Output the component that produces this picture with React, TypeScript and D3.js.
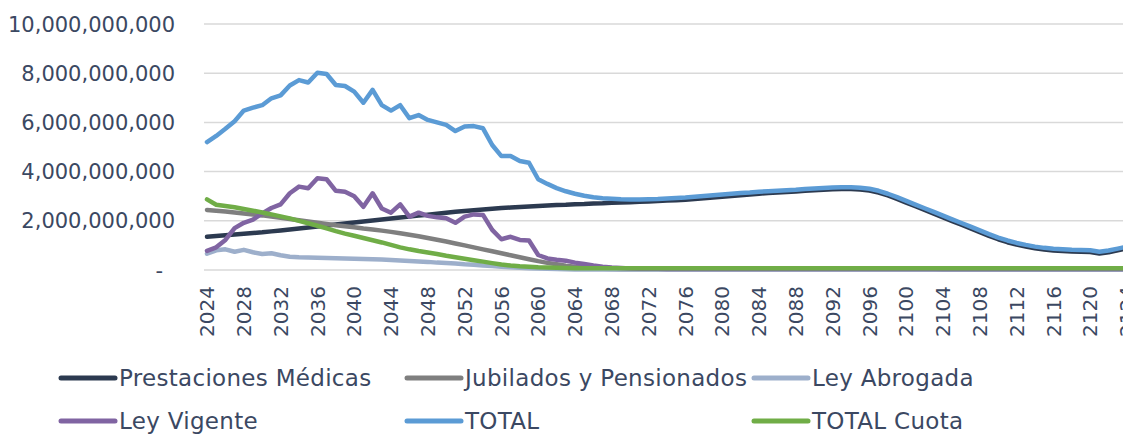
import React from 'react';
import * as d3 from 'd3';

// Values in billions (x 1,000,000,000), one per year 2024..2124
const years = d3.range(2024, 2125);

const prestacionesMedicas = [
  1.35, 1.38, 1.41, 1.44, 1.47, 1.5, 1.53, 1.57, 1.61, 1.65,
  1.69, 1.73, 1.77, 1.81, 1.85, 1.89, 1.93, 1.97, 2.01, 2.05,
  2.09, 2.13, 2.17, 2.21, 2.25, 2.29, 2.33, 2.37, 2.4, 2.43,
  2.46, 2.49, 2.52, 2.54, 2.56, 2.58, 2.6, 2.62, 2.64, 2.65,
  2.67, 2.68, 2.7, 2.71, 2.73, 2.74, 2.75, 2.77, 2.78, 2.8,
  2.82, 2.84, 2.86, 2.89, 2.92, 2.95, 2.98, 3.01, 3.04, 3.07,
  3.1, 3.13, 3.15, 3.17, 3.19, 3.22, 3.24, 3.26, 3.28, 3.29,
  3.29, 3.27, 3.23, 3.15, 3.03, 2.89, 2.74, 2.59, 2.44, 2.29,
  2.14, 1.99, 1.84, 1.69, 1.54, 1.39, 1.25, 1.13, 1.03, 0.95,
  0.88, 0.83, 0.79, 0.77, 0.75, 0.74, 0.73, 0.67, 0.72, 0.8,
  0.88,
];

const jubilados = [
  2.44, 2.41, 2.38, 2.34, 2.3, 2.26, 2.22, 2.17, 2.12, 2.07,
  2.02, 1.97, 1.92, 1.87, 1.82, 1.78, 1.74, 1.69, 1.65, 1.6,
  1.55, 1.49, 1.43, 1.37, 1.3, 1.23, 1.16, 1.08, 1.0, 0.92,
  0.84, 0.76, 0.68, 0.6, 0.52, 0.44, 0.36, 0.29, 0.23, 0.17,
  0.13, 0.1, 0.07, 0.05, 0.04, 0.03, 0.03, 0.03, 0.03, 0.03,
  0.03, 0.03, 0.03, 0.03, 0.03, 0.03, 0.03, 0.03, 0.03, 0.03,
  0.03, 0.03, 0.03, 0.03, 0.03, 0.03, 0.03, 0.03, 0.03, 0.03,
  0.03, 0.03, 0.03, 0.03, 0.03, 0.03, 0.03, 0.03, 0.03, 0.03,
  0.02, 0.02, 0.02, 0.02, 0.02, 0.02, 0.02, 0.02, 0.02, 0.02,
  0.02, 0.02, 0.02, 0.02, 0.02, 0.02, 0.02, 0.02, 0.02, 0.02,
  0.02,
];

const leyAbrogada = [
  0.66, 0.8, 0.84, 0.74, 0.82, 0.72, 0.65, 0.68, 0.6, 0.54,
  0.52, 0.51, 0.5, 0.49, 0.48, 0.47, 0.46, 0.45, 0.44, 0.43,
  0.41, 0.39, 0.37, 0.35, 0.33, 0.3, 0.28, 0.26, 0.23, 0.21,
  0.18, 0.16, 0.13, 0.11, 0.09, 0.07, 0.06, 0.05, 0.04, 0.03,
  0.02, 0.02, 0.02, 0.02, 0.02, 0.02, 0.02, 0.02, 0.02, 0.02,
  0.02, 0.02, 0.02, 0.02, 0.02, 0.02, 0.02, 0.02, 0.02, 0.02,
  0.02, 0.02, 0.02, 0.02, 0.02, 0.02, 0.02, 0.02, 0.02, 0.02,
  0.02, 0.02, 0.02, 0.02, 0.02, 0.02, 0.02, 0.02, 0.02, 0.02,
  0.02, 0.02, 0.02, 0.02, 0.02, 0.02, 0.02, 0.02, 0.02, 0.02,
  0.02, 0.02, 0.02, 0.02, 0.02, 0.02, 0.02, 0.02, 0.02, 0.02,
  0.02,
];

const leyVigente = [
  0.78, 0.92, 1.22, 1.7, 1.92, 2.05, 2.3, 2.52, 2.67, 3.12,
  3.39, 3.32, 3.73, 3.69, 3.22, 3.18, 3.0, 2.57, 3.12, 2.5,
  2.33, 2.67, 2.17, 2.33, 2.2, 2.14, 2.1, 1.92, 2.17, 2.26,
  2.24, 1.63, 1.25, 1.35, 1.22, 1.2, 0.61, 0.47, 0.42, 0.38,
  0.3, 0.24, 0.18, 0.13, 0.1, 0.08, 0.06, 0.05, 0.05, 0.05,
  0.04, 0.04, 0.04, 0.04, 0.04, 0.04, 0.04, 0.04, 0.04, 0.04,
  0.04, 0.04, 0.04, 0.04, 0.04, 0.04, 0.04, 0.04, 0.04, 0.04,
  0.04, 0.04, 0.04, 0.04, 0.04, 0.04, 0.04, 0.04, 0.04, 0.04,
  0.04, 0.04, 0.04, 0.04, 0.04, 0.04, 0.04, 0.04, 0.04, 0.04,
  0.04, 0.04, 0.04, 0.04, 0.04, 0.04, 0.04, 0.04, 0.04, 0.04,
  0.04,
];

const total = [
  5.2, 5.45, 5.74, 6.05, 6.48, 6.6, 6.7, 6.98, 7.1, 7.5,
  7.72, 7.62, 8.02, 7.97, 7.52, 7.48, 7.25, 6.8, 7.32, 6.7,
  6.48, 6.7, 6.17, 6.3, 6.1, 6.0, 5.9, 5.65, 5.83, 5.85,
  5.76, 5.08, 4.63, 4.63, 4.43, 4.36, 3.69, 3.5, 3.33, 3.2,
  3.1, 3.02, 2.96, 2.92, 2.9, 2.88, 2.87, 2.87, 2.88, 2.89,
  2.91, 2.93, 2.95, 2.98, 3.01, 3.04, 3.07, 3.1, 3.13, 3.15,
  3.18, 3.2, 3.22, 3.24, 3.26, 3.29, 3.31, 3.33, 3.35, 3.36,
  3.36, 3.34, 3.3, 3.22, 3.1, 2.96, 2.81, 2.66, 2.51, 2.36,
  2.21, 2.06, 1.91, 1.76, 1.61, 1.46, 1.32, 1.2, 1.1, 1.02,
  0.95, 0.9, 0.86, 0.84, 0.82, 0.81, 0.8, 0.74, 0.79, 0.87,
  0.95,
];

const totalCuota = [
  2.87, 2.65, 2.6, 2.55, 2.48, 2.41, 2.34, 2.26, 2.18, 2.1,
  2.0, 1.9, 1.8, 1.69, 1.58, 1.48, 1.39, 1.3, 1.21, 1.12,
  1.02, 0.92, 0.84, 0.77, 0.71, 0.65, 0.58, 0.52, 0.46, 0.4,
  0.34, 0.28, 0.22, 0.18, 0.15, 0.13, 0.11, 0.1, 0.09, 0.08,
  0.07, 0.07, 0.07, 0.07, 0.07, 0.07, 0.07, 0.07, 0.07, 0.07,
  0.07, 0.07, 0.07, 0.07, 0.07, 0.07, 0.07, 0.07, 0.07, 0.07,
  0.07, 0.07, 0.07, 0.07, 0.07, 0.07, 0.07, 0.07, 0.07, 0.07,
  0.07, 0.07, 0.07, 0.07, 0.07, 0.07, 0.07, 0.07, 0.07, 0.07,
  0.07, 0.07, 0.07, 0.07, 0.07, 0.07, 0.07, 0.07, 0.07, 0.07,
  0.07, 0.07, 0.07, 0.07, 0.07, 0.07, 0.07, 0.07, 0.07, 0.07,
  0.07,
];

const seriesNames = ['Prestaciones Médicas', 'Jubilados y Pensionados', 'Ley Abrogada', 'Ley Vigente', 'TOTAL', 'TOTAL Cuota'];
const seriesValues = [prestacionesMedicas, jubilados, leyAbrogada, leyVigente, total, totalCuota];
const seriesColors = ['#2C3A50', '#7F7F7F', '#9DAFCB', '#8064A2', '#5B9BD5', '#70AD47'];

const yTicks = [0, 2, 4, 6, 8, 10];
const xTickYears = d3.range(2024, 2125, 4);

const W = 1123;
const H = 434;
const FONT = 'DejaVu Sans, sans-serif';
const TEXT = '#3B4862';

export default function App() {
  const x = d3.scaleLinear().domain([2024, 2124]).range([207, 1127]);
  const y = d3.scaleLinear().domain([0, 10]).range([270, 24]);
  const line = d3.line<number>()
    .x((_, i) => x(years[i]))
    .y(d => y(d));
  const fmt = d3.format(',');

  const legendCols = [61, 407, 754];
  const legendRows = [378, 421];

  return (
    <svg width={W} height={H} style={{ position: 'absolute', left: 0, top: 0, background: '#fff' }} fontFamily={FONT}>
      {/* gridlines */}
      {yTicks.map(t => (
        <line key={t} x1={204} x2={W} y1={y(t)} y2={y(t)} stroke="#D9D9D9" strokeWidth={1.5} />
      ))}
      {/* y labels */}
      {yTicks.map(t => (
        <text key={t} x={t === 0 ? 163 : 175} y={y(t)} dy="0.36em" textAnchor="end" fontSize={21} fill={TEXT}>
          {t === 0 ? '-' : fmt(t * 1e9)}
        </text>
      ))}
      {/* x labels */}
      {xTickYears.map(yr => (
        <text key={yr} transform={`translate(${x(yr)},286) rotate(-90)`} dy="0.36em" textAnchor="end" fontSize={20} fill={TEXT}>
          {yr}
        </text>
      ))}
      {/* series lines */}
      {seriesValues.map((vals, i) => (
        <path key={i} d={line(vals) || ''} fill="none" stroke={seriesColors[i]} strokeWidth={4.5} strokeLinejoin="round" strokeLinecap="round" />
      ))}
      {/* legend */}
      {seriesNames.map((name, i) => {
        const lx = legendCols[i % 3];
        const ly = legendRows[Math.floor(i / 3)];
        return (
          <g key={name}>
            <line x1={lx} x2={lx + 54} y1={ly} y2={ly} stroke={seriesColors[i]} strokeWidth={5} strokeLinecap="round" />
            <text x={lx + 58} y={ly} dy="0.36em" fontSize={23} letterSpacing={0.3} fill={TEXT}>{name}</text>
          </g>
        );
      })}
    </svg>
  );
}
